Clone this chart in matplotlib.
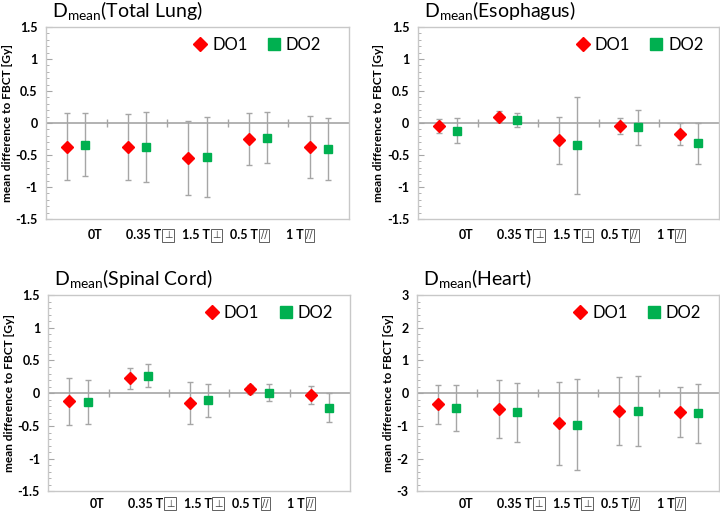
import matplotlib
matplotlib.use("Agg")
import matplotlib.pyplot as plt
from matplotlib.ticker import MultipleLocator, FuncFormatter
import matplotlib.transforms as mtransforms
import numpy as np

plt.rcParams['font.family'] = ['Lato', 'DejaVu Sans']
plt.rcParams['mathtext.fontset'] = 'custom'
plt.rcParams['mathtext.rm'] = 'Lato'
plt.rcParams['axes.unicode_minus'] = False

categories = ["0T", "0.35 T", "1.5 T", "0.5 T", "1 T"]
symbols = ["", "⊥", "⊥", "//", "//"]

organs = ["Total Lung", "Esophagus", "Spinal Cord", "Heart"]

lung_do1 = [-0.37, -0.38, -0.55, -0.25, -0.38]
lung_do1_sd = [0.525, 0.515, 0.58, 0.405, 0.485]
lung_do2 = [-0.34, -0.37, -0.53, -0.23, -0.41]
lung_do2_sd = [0.49, 0.545, 0.625, 0.395, 0.485]

eso_do1 = [-0.05, 0.10, -0.27, -0.05, -0.17]
eso_do1_sd = [0.11, 0.085, 0.37, 0.125, 0.175]
eso_do2 = [-0.12, 0.04, -0.35, -0.07, -0.32]
eso_do2_sd = [0.20, 0.11, 0.76, 0.28, 0.325]

cord_do1 = [-0.12, 0.23, -0.15, 0.06, -0.03]
cord_do1_sd = [0.36, 0.16, 0.32, 0.07, 0.135]
cord_do2 = [-0.13, 0.27, -0.11, 0.01, -0.22]
cord_do2_sd = [0.335, 0.17, 0.25, 0.13, 0.22]

heart_do1 = [-0.34, -0.49, -0.92, -0.55, -0.57]
heart_do1_sd = [0.59, 0.88, 1.27, 1.04, 0.775]
heart_do2 = [-0.46, -0.58, -0.96, -0.54, -0.61]
heart_do2_sd = [0.70, 0.90, 1.38, 1.07, 0.90]

data = [
    (lung_do1, lung_do1_sd, lung_do2, lung_do2_sd),
    (eso_do1, eso_do1_sd, eso_do2, eso_do2_sd),
    (cord_do1, cord_do1_sd, cord_do2, cord_do2_sd),
    (heart_do1, heart_do1_sd, heart_do2, heart_do2_sd),
]
ylims = [(-1.5, 1.5), (-1.5, 1.5), (-1.5, 1.5), (-3, 3)]
majors = [0.5, 0.5, 0.5, 1]
minors = [0.1, 0.1, 0.1, 0.2]

positions = [
    [0.0639, 0.5714, 0.4208, 0.3758],
    [0.5799, 0.5714, 0.4190, 0.3758],
    [0.0671, 0.0382, 0.4190, 0.3845],
    [0.5790, 0.0382, 0.4200, 0.3845],
]
legend_x = [0.93, 0.97, 0.965, 0.962]
label_y = [-0.085, -0.085, -0.062, -0.062]

# label placement (in category units): "0T" centre, then box-left positions
label_x = [0.805, 1.936, 2.734, 3.531, 4.285]

RED = "#ff0000"
GREEN = "#00b050"
ERR = "#a6a6a6"
FRAME = "#c8c8c8"

fig = plt.figure(figsize=(7.2, 5.11), dpi=100)
x = np.arange(len(categories)) + 0.5

for i, organ in enumerate(organs):
    ax = fig.add_axes(positions[i])
    d1, s1, d2, s2 = data[i]
    ax.axhline(0, color="#a6a6a6", lw=1.2, zorder=1)
    ax.plot(np.arange(1, len(categories)), np.zeros(len(categories) - 1),
            linestyle="none", marker="|", color="#a6a6a6", ms=6, mew=1.0, zorder=1)
    ax.errorbar(x - 0.15, d1, yerr=s1, fmt="none",
                ecolor=ERR, elinewidth=1.0, capsize=2.5, capthick=1.0, zorder=2)
    ax.errorbar(x + 0.15, d2, yerr=s2, fmt="none",
                ecolor=ERR, elinewidth=1.0, capsize=2.5, capthick=1.0, zorder=2)
    ax.plot(x - 0.15, d1, linestyle="none", marker="D", color=RED, ms=5.8,
            label="DO1", zorder=3)
    ax.plot(x + 0.15, d2, linestyle="none", marker="s", color=GREEN, ms=6.4,
            label="DO2", zorder=3)
    ax.set_xlim(0, len(categories))
    ax.set_ylim(*ylims[i])
    ax.set_xticks([])
    ax.yaxis.set_major_locator(MultipleLocator(majors[i]))
    ax.yaxis.set_minor_locator(MultipleLocator(minors[i]))
    ax.yaxis.set_major_formatter(FuncFormatter(lambda v, p: "%g" % v))
    ax.tick_params(axis="y", which="major", direction="in", length=4,
                   color="#a6a6a6", labelsize=9, pad=6)
    ax.tick_params(axis="y", which="minor", direction="in", length=2.5,
                   color="#a6a6a6")
    for lab in ax.get_yticklabels():
        lab.set_fontweight("bold")
    for sp in ax.spines.values():
        sp.set_color(FRAME)
        sp.set_linewidth(1.0)
    ax.set_ylabel("mean difference to FBCT [Gy]", fontsize=8.6,
                  fontweight="bold", labelpad=2)
    ax.text(0.02, 1.08, r"D$_{\mathrm{mean}}$(" + organ + ")",
            transform=ax.transAxes, fontsize=14, va="center", ha="left")
    ax.legend(loc="upper right", bbox_to_anchor=(legend_x[i], 0.985),
              ncol=2, frameon=False, fontsize=12, handletextpad=0.1,
              columnspacing=1.0, borderaxespad=0, handlelength=1.2,
              markerscale=1.3)

    trans = mtransforms.blended_transform_factory(ax.transData, ax.transAxes)
    for k, (cat, sym) in enumerate(zip(categories, symbols)):
        if sym == "":
            ax.text(label_x[k], label_y[i], cat, transform=trans, ha="center",
                    va="center", fontsize=9, fontweight="bold")
        else:
            ax.text(label_x[k] - 0.03, label_y[i], cat, transform=trans,
                    ha="right", va="center", fontsize=9, fontweight="bold")
            ax.text(label_x[k] + 0.01, label_y[i], sym, transform=trans,
                    ha="left", va="center", fontsize=7,
                    family=["DejaVu Sans"], color="#404040",
                    bbox=dict(boxstyle="square,pad=0.15", fc="white",
                              ec="#606060", lw=0.7))

fig.savefig("out.png", dpi=100)
